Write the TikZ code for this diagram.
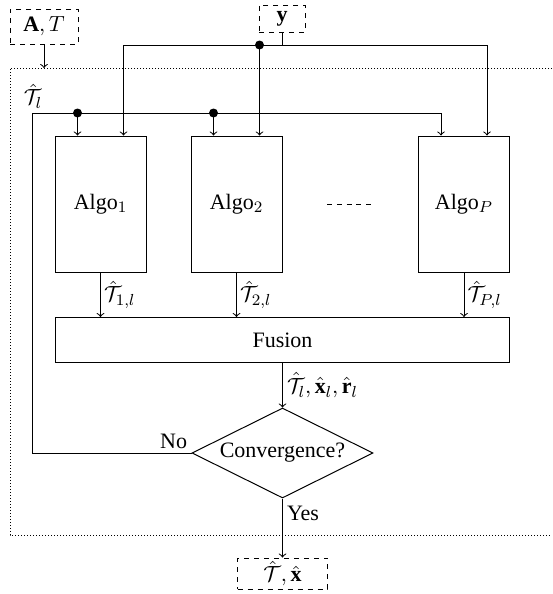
\documentclass[tikz,border=0pt]{standalone}
\usepackage{fontspec}
\setmainfont{Liberation Serif}
\usetikzlibrary{shapes.geometric,calc}
\begin{document}
\begin{tikzpicture}[x=0.5pt,y=-0.5pt,
  every node/.style={font=\fontsize{11}{13}\selectfont},
  ln/.style={line width=0.5pt},
  arr/.style={line width=0.5pt,->},
  algobox/.style={draw,line width=0.5pt,minimum width=45.5pt,minimum height=68pt,inner sep=0pt},
  dbox/.style={draw,line width=0.5pt,dash pattern=on 2.5pt off 2.5pt,inner sep=0pt},
  dotframe/.style={line width=0.5pt,dash pattern=on 0.5pt off 1pt},
  junction/.style={circle,fill,inner sep=0pt,minimum size=4.5pt},
  lbl/.style={inner sep=1.5pt}]
\useasboundingbox (0,0) rectangle (552,594);

% frame
\coordinate (f1) at (552,68);
\coordinate (f2) at (10,68);
\coordinate (f3) at (10,535);
\coordinate (f4) at (552,535);
\draw[dotframe] (f1) -- (f2) -- (f3) -- (f4);

% nodes
\node[dbox,minimum width=34pt,minimum height=17.5pt] (AT) at (44,26.5) {$\mathbf{A}, T$};
\node[dbox,minimum width=23pt,minimum height=13.5pt] (Y) at (282,18.5) {$\mathbf{y}$};
\node[algobox] (A1) at (100.5,204) {Algo$_1$};
\node[algobox] (A2) at (236.5,204) {Algo$_2$};
\node[algobox] (AP) at (464,204) {Algo$_P$};
\node[draw,line width=0.5pt,minimum width=227pt,minimum height=22.5pt,inner sep=0pt] (F) at (282.5,340) {Fusion};
\node[draw,diamond,shape aspect=2,line width=0.5pt,minimum width=90.5pt,minimum height=45pt,inner sep=0pt] (C) at (282.5,453) {Convergence?};
\node[dbox,minimum width=45pt,minimum height=15.5pt] (O) at (282.5,573.5) {$\hat{\mathcal{T}}, \hat{\mathbf{x}}$};
\node (TL) at (33,96) {$\hat{\mathcal{T}}_l$};
\node[anchor=south east,inner sep=2pt] (NO) at (C.west) {No};

% input A,T
\draw[arr] (AT.south) -- (AT.south |- f2);

% y bus
\coordinate (yb) at (282,45);
\coordinate (a1r) at ([xshift=11.5pt]A1.north);
\coordinate (a2r) at ([xshift=11.5pt]A2.north);
\coordinate (apr) at ([xshift=11.5pt]AP.north);
\coordinate (a1l) at ([xshift=-11.5pt]A1.north);
\coordinate (a2l) at ([xshift=-11.5pt]A2.north);
\coordinate (apl) at ([xshift=-11.5pt]AP.north);
\draw[ln] (Y.south) -- (yb);
\draw[arr] (yb) -| (a1r);
\draw[arr] (yb) -| (apr);
\node[junction] (yd) at (a2r |- yb) {};
\draw[arr] (yd.center) -- (a2r);

% feedback bus
\coordinate (fb1) at (32,453);
\coordinate (fb2) at (32,113);
\draw[arr] (C.west) -- (fb1) -- (fb2) -| (apl);
\node[junction] (t1) at (a1l |- fb2) {};
\node[junction] (t2) at (a2l |- fb2) {};
\draw[arr] (t1.center) -- (a1l);
\draw[arr] (t2.center) -- (a2l);

% dots between algos
\coordinate (d1) at (327,204);
\coordinate (d2) at (371,204);
\draw[line width=0.5pt,dash pattern=on 2.5pt off 2.4pt] (d1) -- (d2);

% algo outputs
\draw[arr] (A1.south) -- (A1.south |- F.north) node[midway,right,lbl] {$\hat{\mathcal{T}}_{1,l}$};
\draw[arr] (A2.south) -- (A2.south |- F.north) node[midway,right,lbl] {$\hat{\mathcal{T}}_{2,l}$};
\draw[arr] (AP.south) -- (AP.south |- F.north) node[midway,right,lbl] {$\hat{\mathcal{T}}_{P,l}$};

% fusion to convergence
\draw[arr] (F.south) -- (C.north) node[midway,right,inner sep=2pt] {$\hat{\mathcal{T}}_l, \hat{\mathbf{x}}_l, \hat{\mathbf{r}}_l$};

% convergence to output
\draw[arr] (C.south) -- (O.north) node[pos=0.25,right,inner sep=2pt] {Yes};
\end{tikzpicture}
\end{document}
